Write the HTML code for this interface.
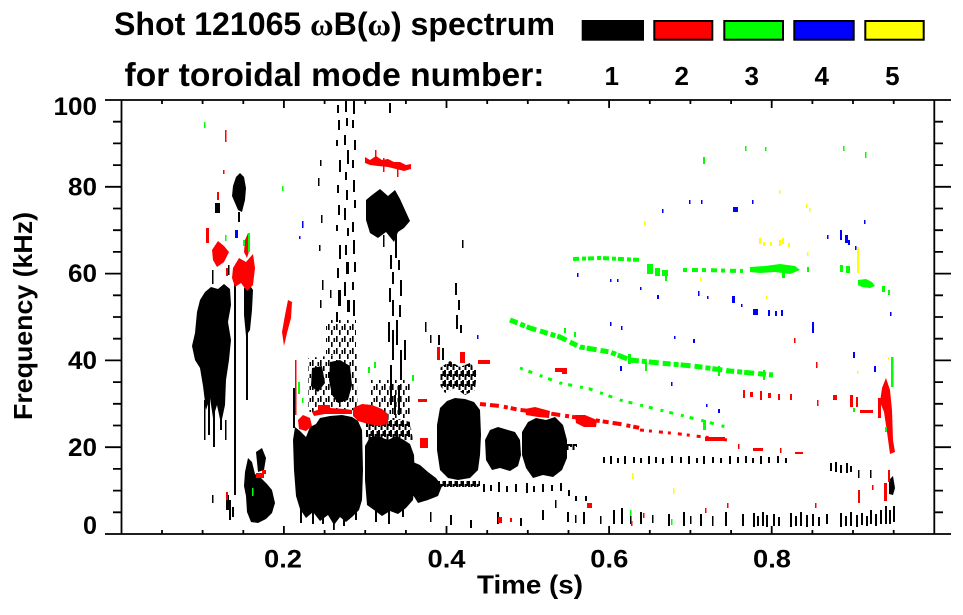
<!DOCTYPE html>
<html><head><meta charset="utf-8"><style>
html,body{margin:0;padding:0;background:#fff;}
svg{display:block;}
text{font-family:"Liberation Sans",Arial,sans-serif;font-weight:bold;fill:#000;}
</style></head><body>
<svg width="963" height="615" viewBox="0 0 963 615" xmlns="http://www.w3.org/2000/svg">
<defs>
<pattern id="st" width="8" height="12" patternUnits="userSpaceOnUse"><rect x="0" y="0" width="1.6" height="6"/><rect x="3" y="6" width="1.6" height="5"/><rect x="5.5" y="2" width="1.6" height="4"/></pattern>
<pattern id="st2" width="6" height="10" patternUnits="userSpaceOnUse"><rect x="0" y="0" width="2" height="7"/><rect x="2.5" y="4" width="2" height="6"/><rect x="4.5" y="1" width="1.5" height="5"/></pattern>
<clipPath id="pc"><rect x="122" y="101" width="812" height="432"/></clipPath>
</defs>

<!-- Title -->
<text x="114" y="35" font-size="32" textLength="441" lengthAdjust="spacingAndGlyphs">Shot 121065 <tspan font-family="Liberation Serif">ω</tspan>B(<tspan font-family="Liberation Serif">ω</tspan>) spectrum</text>
<text x="124.5" y="86" font-size="33" textLength="420" lengthAdjust="spacingAndGlyphs">for toroidal mode number:</text>

<!-- Legend -->
<rect x="581.7" y="20" width="62.3" height="20.7" fill="#000"/>
<rect x="654.3" y="21" width="58" height="18.7" fill="#ff0000" stroke="#000" stroke-width="2"/>
<rect x="724.3" y="21" width="58.7" height="18.7" fill="#00ff00" stroke="#000" stroke-width="2"/>
<rect x="794.3" y="21" width="59.4" height="18.7" fill="#0000ff" stroke="#000" stroke-width="2"/>
<rect x="865.3" y="21" width="58.4" height="18.7" fill="#ffff00" stroke="#000" stroke-width="2"/>
<g font-size="26" text-anchor="middle">
<text x="611.7" y="85">1</text><text x="681.7" y="85">2</text><text x="751.7" y="85">3</text><text x="821.7" y="85">4</text><text x="892.3" y="85">5</text>
</g>

<!-- DATA -->
<g clip-path="url(#pc)">
<!-- BLACK -->
<g fill="#000">
<polygon points="192,346 195,333 197,312 200,300 205,292 211,287 218,289 224,284 230,289 231,305 228,322 231,340 229,360 226,380 225,405 221,424 217,405 213,418 210,398 206,410 203,386 200,368 195,360"/>
<rect x="208" y="380" width="2" height="55"/><rect x="213" y="390" width="2" height="57"/><rect x="220" y="400" width="2" height="30"/><rect x="204" y="400" width="1.5" height="40"/><rect x="225" y="420" width="1.5" height="20"/>
<rect x="234" y="283" width="2" height="212"/>
<rect x="246" y="282" width="2" height="118"/>
<polygon points="244,288 249,284 253,290 252,310 250,330 246,336 244,315"/>
<polygon points="233,186 236,177 240,173 244,177 246,188 245,200 242,212 238,210 235,203 232,196"/>
<rect x="215" y="203" width="5" height="10"/><rect x="238" y="212" width="2" height="10"/>
<polygon points="245,472 248,458 252,462 255,474 261,478 267,484 272,490 275,503 272,513 266,519 258,523 251,522 247,512 246,496 244,486"/>
<polygon points="256,452 262,448 266,458 264,470 258,472"/>
<rect x="226" y="495" width="3" height="15"/><rect x="229" y="500" width="2" height="20"/><rect x="232" y="507" width="2" height="10"/><rect x="212" y="495" width="1.5" height="8"/>
<rect x="212" y="270" width="1.5" height="14"/><rect x="228" y="265" width="1.5" height="10"/>
<rect x="293" y="388" width="2" height="40"/>
<polygon points="293,440 295,427 300,431 306,437 310,427 316,424 320,418 330,416 342,415 352,417 358,421 362,430 363,470 362,500 359,510 352,517 346,522 340,517 334,525 328,515 320,521 313,512 306,518 300,509 296,496 294,470"/>
<rect x="300" y="505" width="2" height="18"/><rect x="312" y="508" width="2" height="16"/><rect x="322" y="510" width="2" height="14"/><rect x="333" y="510" width="1.8" height="20"/><rect x="343" y="512" width="2" height="14"/><rect x="355" y="506" width="2" height="14"/>
<polygon points="365,446 370,437 378,436 388,440 396,436 404,440 410,444 414,455 415,480 413,500 406,508 398,514 390,511 382,516 374,510 367,505 365,480"/>
<rect x="375" y="508" width="2" height="14"/><rect x="388" y="510" width="2" height="14"/><rect x="402" y="505" width="2" height="12"/>
<polygon fill="url(#st2)" points="366,420 380,418 395,418 410,422 413,440 366,440"/>
<polygon points="413,462 420,465 428,472 436,478 442,486 438,496 428,500 418,503 413,495"/>
<polygon points="437,425 440,408 447,401 455,398 465,399 474,402 480,410 481,435 480,455 478,470 470,478 458,480 448,478 440,470 437,450"/>
<polygon points="485,440 490,430 498,427 508,430 515,432 520,440 521,455 518,466 510,471 500,468 492,470 486,460"/>
<polygon points="522,432 528,422 536,418 546,420 555,417 563,425 567,440 567,458 562,470 553,477 543,475 533,478 526,468 522,455"/>
<rect x="567" y="444" width="10" height="6" fill="url(#st2)"/>
<polygon points="330,362 340,360 350,366 352,385 348,400 338,403 332,395 329,380"/>
<polygon fill="url(#st)" points="308,358 357,353 358,410 308,412"/>
<polygon fill="url(#st)" points="326,320 356,320 356,355 326,355"/>
<polygon points="312,368 322,366 325,383 318,392 311,386"/>
<polygon fill="url(#st2)" points="440,368 450,361 460,367 470,363 477,371 475,390 465,395 455,388 445,393 440,385"/>
<polygon fill="url(#st)" points="370,380 410,380 410,418 370,418"/>
<polygon points="366,200 372,195 380,189 388,196 395,190 400,199 405,210 410,221 404,228 398,232 394,242 386,232 378,238 370,233 366,220"/>
<rect x="395" y="230" width="2" height="28"/><rect x="383" y="235" width="1.5" height="12"/>
<rect x="337" y="105" width="2" height="8"/><rect x="338" y="120" width="2" height="10"/><rect x="336" y="140" width="2" height="6"/><rect x="339" y="160" width="2" height="12"/><rect x="337" y="185" width="2" height="8"/><rect x="338" y="205" width="2" height="10"/><rect x="336" y="225" width="2" height="6"/><rect x="339" y="245" width="2" height="14"/><rect x="337" y="268" width="2" height="10"/><rect x="338" y="290" width="3" height="16"/><rect x="336" y="312" width="2" height="10"/>
<rect x="345" y="100" width="2" height="12"/><rect x="346" y="118" width="2" height="8"/><rect x="344" y="135" width="2" height="10"/><rect x="347" y="150" width="2" height="14"/><rect x="345" y="172" width="2" height="8"/><rect x="346" y="190" width="2" height="10"/><rect x="344" y="208" width="2" height="12"/><rect x="347" y="228" width="2" height="8"/><rect x="345" y="245" width="2" height="10"/><rect x="346" y="262" width="3" height="12"/><rect x="344" y="282" width="2" height="14"/><rect x="347" y="300" width="3" height="12"/>
<rect x="353" y="100" width="2" height="14"/><rect x="352" y="120" width="2" height="8"/><rect x="354" y="140" width="2" height="10"/><rect x="352" y="160" width="2" height="8"/><rect x="353" y="180" width="2" height="12"/><rect x="354" y="200" width="2" height="8"/><rect x="352" y="222" width="2" height="10"/><rect x="353" y="240" width="2" height="14"/><rect x="354" y="262" width="2" height="10"/><rect x="352" y="282" width="2" height="8"/><rect x="353" y="300" width="2" height="16"/>
<rect x="320" y="160" width="1.5" height="6"/><rect x="318" y="178" width="1.5" height="8"/><rect x="321" y="215" width="1.5" height="8"/><rect x="319" y="245" width="1.5" height="6"/><rect x="322" y="280" width="1.5" height="10"/><rect x="320" y="300" width="1.5" height="8"/><rect x="330" y="290" width="1.5" height="8"/>
<rect x="389" y="103" width="2" height="10"/><rect x="390" y="255" width="2" height="14"/><rect x="392" y="272" width="2" height="12"/><rect x="389" y="288" width="2" height="14"/><rect x="398" y="260" width="2" height="10"/><rect x="400" y="280" width="2" height="16"/><rect x="392" y="300" width="2" height="16"/><rect x="399" y="305" width="2" height="12"/>
<rect x="388" y="322" width="2" height="20"/><rect x="392" y="330" width="2" height="30"/><rect x="396" y="320" width="2" height="25"/><rect x="400" y="350" width="2" height="30"/><rect x="404" y="340" width="2" height="20"/><rect x="390" y="365" width="2" height="40"/><rect x="398" y="385" width="2" height="30"/><rect x="394" y="395" width="2" height="20"/>
<rect x="455" y="283" width="2" height="12"/><rect x="458" y="300" width="2" height="10"/><rect x="456" y="315" width="2" height="14"/><rect x="460" y="325" width="2" height="8"/><rect x="438" y="335" width="2" height="10"/><rect x="442" y="348" width="2" height="12"/><rect x="462" y="240" width="1.5" height="8"/><rect x="425" y="322" width="1.5" height="10"/><rect x="430" y="335" width="1.5" height="8"/>
<rect x="603" y="457" width="2" height="6"/><rect x="610" y="456" width="2" height="8"/><rect x="617" y="458" width="2" height="5"/><rect x="624" y="456" width="2" height="8"/><rect x="633" y="457" width="2" height="6"/><rect x="640" y="458" width="2" height="5"/><rect x="648" y="456" width="2" height="8"/><rect x="655" y="457" width="2" height="6"/><rect x="662" y="458" width="2" height="6"/><rect x="671" y="456" width="2" height="7"/><rect x="680" y="457" width="2" height="6"/><rect x="688" y="456" width="2" height="8"/><rect x="696" y="458" width="2" height="5"/><rect x="703" y="456" width="2" height="8"/><rect x="712" y="457" width="2" height="6"/><rect x="720" y="458" width="2" height="5"/><rect x="729" y="456" width="2" height="8"/><rect x="737" y="457" width="2" height="6"/><rect x="745" y="456" width="2" height="7"/><rect x="752" y="458" width="2" height="5"/><rect x="760" y="456" width="2" height="8"/><rect x="768" y="457" width="2" height="6"/><rect x="777" y="456" width="2" height="7"/><rect x="785" y="458" width="2" height="5"/>
<rect x="830" y="463" width="2" height="8"/><rect x="835" y="462" width="2" height="10"/><rect x="840" y="465" width="2" height="8"/><rect x="846" y="463" width="2" height="10"/><rect x="850" y="466" width="2" height="6"/><rect x="858" y="470" width="1.5" height="8"/><rect x="870" y="470" width="1.5" height="8"/>
<polygon points="889,480 893,476 895,488 893,495 889,494"/>
<rect x="483" y="484" width="2" height="8"/><rect x="490" y="485" width="2" height="6"/><rect x="498" y="482" width="2" height="10"/><rect x="506" y="486" width="2" height="6"/><rect x="515" y="484" width="2" height="8"/><rect x="526" y="483" width="2" height="10"/><rect x="533" y="486" width="2" height="6"/><rect x="542" y="484" width="2" height="8"/><rect x="551" y="485" width="2" height="6"/><rect x="560" y="483" width="2" height="8"/><rect x="568" y="490" width="2" height="6"/><rect x="575" y="496" width="2" height="5"/><rect x="585" y="496" width="2" height="5"/>
<rect x="415" y="481" width="65" height="6" fill="url(#st2)"/>
<rect x="567" y="512" width="2" height="10"/><rect x="575" y="515" width="1.5" height="8"/><rect x="583" y="512" width="2" height="12"/><rect x="600" y="516" width="1.5" height="8"/><rect x="613" y="510" width="2" height="14"/><rect x="621" y="508" width="2" height="16"/><rect x="630" y="514" width="1.5" height="10"/><rect x="640" y="512" width="2" height="12"/><rect x="652" y="515" width="1.5" height="8"/><rect x="668" y="514" width="2" height="12"/><rect x="683" y="512" width="2" height="14"/><rect x="690" y="516" width="1.5" height="8"/><rect x="700" y="514" width="2" height="12"/><rect x="712" y="516" width="1.5" height="10"/><rect x="725" y="512" width="2" height="14"/><rect x="742" y="514" width="2" height="12"/><rect x="753" y="513" width="2" height="14"/><rect x="757" y="516" width="2" height="10"/><rect x="762" y="512" width="2" height="14"/><rect x="766" y="515" width="2" height="12"/><rect x="773" y="514" width="2" height="12"/><rect x="778" y="517" width="2" height="9"/><rect x="790" y="513" width="2" height="14"/><rect x="795" y="516" width="2" height="10"/><rect x="800" y="512" width="2" height="14"/><rect x="806" y="515" width="2" height="12"/><rect x="812" y="514" width="2" height="12"/><rect x="818" y="517" width="2" height="9"/><rect x="826" y="514" width="2" height="10"/><rect x="840" y="513" width="2" height="14"/><rect x="845" y="516" width="2" height="10"/><rect x="850" y="512" width="2" height="14"/><rect x="856" y="515" width="2" height="12"/><rect x="861" y="513" width="2" height="12"/><rect x="866" y="516" width="2" height="10"/><rect x="870" y="510" width="2" height="14"/><rect x="875" y="514" width="2" height="12"/><rect x="880" y="510" width="2" height="14"/><rect x="885" y="506" width="2" height="18"/><rect x="889" y="510" width="2" height="14"/><rect x="893" y="506" width="2" height="16"/>
<rect x="450" y="515" width="2" height="10"/><rect x="470" y="520" width="2" height="8"/><rect x="497" y="512" width="2" height="12"/><rect x="520" y="518" width="2" height="8"/><rect x="542" y="510" width="2" height="10"/><rect x="430" y="512" width="1.5" height="10"/><rect x="555" y="500" width="1.5" height="8"/>
</g>

<!-- RED -->
<g fill="#ff0000">
<polygon points="233,268 239,258 246,262 253,254 255,268 253,285 247,291 241,283 235,287 232,278"/>
<polygon points="212,250 218,241 224,246 229,252 224,262 217,267 213,260"/>
<polygon points="245,240 248,233 250,248 247,258 244,252"/>
<rect x="206" y="228" width="3" height="15"/><rect x="226" y="268" width="2" height="8"/><rect x="217" y="192" width="2" height="8"/><rect x="225" y="130" width="1.5" height="12"/><rect x="223" y="170" width="1.5" height="4"/>
<rect x="256" y="473" width="8" height="5"/><rect x="262" y="470" width="4" height="4"/><rect x="226" y="492" width="2" height="8"/>
<polygon points="288,300 292,302 291,318 287,333 284,346 282,332 285,315"/>
<rect x="295" y="360" width="1.5" height="55"/>
<polygon points="298,420 303,415 310,418 312,426 306,431 299,429"/>
<polygon points="312,412 320,409 330,408 345,409 352,410 352,414 340,414 325,414 314,416"/>
<polygon points="353,408 362,404 372,405 382,409 388,414 388,424 378,426 368,424 358,421 353,416"/>
<rect x="318" y="405" width="12" height="5"/>
<polygon points="365,157 370,160 376,156 382,160 388,159 394,162 400,162 406,165 411,164 411,169 404,171 396,169 388,167 378,166 370,165 365,163"/>
<rect x="375" y="150" width="1.5" height="8"/><rect x="383" y="158" width="1.5" height="14"/><rect x="397" y="165" width="1.5" height="12"/>
<polyline points="480,404 500,406 520,410 540,412 560,415 580,418 600,421 620,424 640,428" fill="none" stroke="#ff0000" stroke-width="4" stroke-dasharray="6 4 9 5 4 3"/>
<polyline points="640,430 680,434 727,440" fill="none" stroke="#ff0000" stroke-width="3" stroke-dasharray="4 5 3 7"/>
<polygon points="525,409 535,407 550,411 549,418 538,417 526,415"/>
<polygon points="575,415 585,415 597,420 596,427 584,427 576,423"/>
<polygon points="882,388 886,378 890,390 892,410 893,440 895,452 890,454 887,432 884,412 880,402"/>
<rect x="878" y="398" width="3" height="20"/><rect x="888" y="470" width="2" height="12"/><rect x="884" y="483" width="3" height="18"/>
<rect x="743" y="390" width="2" height="8"/><rect x="750" y="392" width="3" height="5"/><rect x="760" y="391" width="2" height="9"/><rect x="768" y="393" width="3" height="5"/><rect x="778" y="394" width="2" height="6"/><rect x="790" y="394" width="2" height="6"/>
<rect x="562" y="370" width="5" height="4"/><rect x="794" y="338" width="1.5" height="5"/><rect x="816" y="362" width="1.5" height="6"/><rect x="833" y="395" width="4" height="5"/><rect x="850" y="395" width="3" height="12"/><rect x="856" y="397" width="2" height="10"/><rect x="860" y="410" width="13" height="3"/><rect x="817" y="400" width="1.5" height="6"/>
<rect x="705" y="437" width="20" height="4"/><rect x="738" y="444" width="1.5" height="5"/><rect x="753" y="448" width="10" height="3"/><rect x="780" y="448" width="1.5" height="5"/><rect x="795" y="452" width="8" height="2"/>
<rect x="858" y="490" width="2" height="13"/><rect x="872" y="485" width="1.5" height="5"/><rect x="587" y="503" width="5" height="5"/><rect x="727" y="503" width="1.5" height="5"/><rect x="815" y="503" width="1.5" height="5"/><rect x="705" y="508" width="1.5" height="5"/><rect x="643" y="513" width="1.5" height="5"/><rect x="631" y="521" width="1.5" height="5"/>
<rect x="437" y="347" width="3" height="13"/><rect x="460" y="352" width="5" height="11"/><rect x="478" y="360" width="12" height="4"/><rect x="418" y="399" width="9" height="3"/><rect x="420" y="438" width="8" height="10"/><rect x="498" y="517" width="4" height="6"/><rect x="510" y="518" width="2" height="4"/><rect x="555" y="368" width="12" height="4"/>
</g>

<!-- GREEN -->
<g fill="#00ff00">
<polyline points="573,259 600,258 642,260" fill="none" stroke="#00ff00" stroke-width="4" stroke-dasharray="6 3 4 2"/>
<rect x="647" y="264" width="6" height="10"/><rect x="655" y="268" width="5" height="8"/><rect x="662" y="270" width="6" height="6"/><rect x="665" y="272" width="2" height="9"/>
<polyline points="683,270 700,270 743,271" fill="none" stroke="#00ff00" stroke-width="4" stroke-dasharray="4 5 6 4"/>
<polygon points="750,267 765,266 780,264 795,266 800,270 790,274 775,272 760,273 750,272"/>
<rect x="782" y="266" width="3" height="12"/><rect x="807" y="267" width="2" height="5"/>
<rect x="840" y="265" width="3" height="7"/><rect x="846" y="266" width="4" height="7"/>
<polygon points="858,280 866,279 872,282 875,286 870,288 862,287 858,285"/><rect x="882" y="286" width="3" height="6"/><rect x="888" y="290" width="2" height="5"/>
<polyline points="510,320 530,328 560,337 580,347 610,352 630,360 660,363 693,366 730,371 773,375" fill="none" stroke="#00ff00" stroke-width="5" stroke-dasharray="8 3 5 2 10 4"/>
<rect x="628" y="354" width="3" height="10"/><rect x="645" y="362" width="2" height="9"/><rect x="718" y="366" width="2" height="10"/><rect x="763" y="370" width="2" height="10"/>
<polyline points="520,368 560,383 590,389 620,400 660,410 700,420 730,428" fill="none" stroke="#00ff00" stroke-width="3" stroke-dasharray="3 6 4 8"/>
<rect x="703" y="420" width="3" height="10"/>
<rect x="891" y="357" width="2.5" height="30"/><rect x="885" y="427" width="2" height="5"/>
<rect x="248" y="233" width="2" height="19"/><rect x="243" y="240" width="2" height="6"/><rect x="225" y="235" width="1.5" height="6"/><rect x="252" y="488" width="1.5" height="8"/>
<rect x="204" y="122" width="1.5" height="6"/><rect x="282" y="186" width="1.5" height="5"/><rect x="703" y="157" width="2" height="7"/><rect x="745" y="146" width="1.5" height="5"/><rect x="843" y="146" width="1.5" height="5"/><rect x="865" y="152" width="1.5" height="6"/><rect x="765" y="147" width="1.5" height="4"/>
<rect x="564" y="328" width="2" height="5"/><rect x="574" y="332" width="2" height="5"/><rect x="298" y="382" width="2" height="12"/><rect x="302" y="398" width="1.5" height="5"/><rect x="368" y="367" width="2" height="6"/><rect x="374" y="362" width="2" height="6"/><rect x="412" y="375" width="2" height="6"/><rect x="630" y="510" width="1.5" height="6"/><rect x="671" y="519" width="1.5" height="6"/><rect x="853" y="408" width="2" height="4"/>
</g>

<!-- BLUE -->
<g fill="#0000ff">
<rect x="689" y="200" width="1.5" height="4"/><rect x="701" y="200" width="1.5" height="4"/><rect x="662" y="209" width="1.5" height="4"/><rect x="733" y="207" width="5" height="5"/><rect x="752" y="200" width="1.5" height="4"/><rect x="827" y="235" width="1.5" height="4"/><rect x="840" y="230" width="2" height="10"/><rect x="845" y="235" width="3" height="8"/><rect x="848" y="240" width="2" height="5"/><rect x="855" y="246" width="1.5" height="4"/><rect x="864" y="220" width="1.5" height="4"/>
<rect x="577" y="273" width="1.5" height="4"/><rect x="610" y="279" width="1.5" height="3"/><rect x="617" y="279" width="1.5" height="3"/><rect x="640" y="287" width="1.5" height="3"/><rect x="657" y="295" width="2" height="4"/><rect x="698" y="291" width="1.5" height="5"/><rect x="707" y="296" width="1.5" height="3"/><rect x="732" y="296" width="3" height="7"/><rect x="741" y="304" width="1.5" height="3"/><rect x="753" y="309" width="5" height="6"/><rect x="768" y="310" width="2" height="6"/><rect x="775" y="311" width="2" height="5"/><rect x="781" y="310" width="2" height="6"/><rect x="812" y="322" width="2" height="11"/><rect x="890" y="312" width="1.5" height="4"/><rect x="610" y="322" width="1.5" height="4"/><rect x="621" y="326" width="1.5" height="4"/><rect x="674" y="336" width="1.5" height="3"/><rect x="693" y="339" width="2" height="4"/><rect x="620" y="366" width="2" height="5"/><rect x="671" y="382" width="1.5" height="4"/><rect x="706" y="404" width="1.5" height="3"/><rect x="718" y="409" width="2" height="4"/><rect x="853" y="352" width="2" height="6"/><rect x="874" y="366" width="2" height="6"/><rect x="235" y="230" width="3" height="8"/><rect x="302" y="221" width="1.5" height="7"/><rect x="299" y="236" width="1.5" height="3"/><rect x="477" y="335" width="1.5" height="4"/>
</g>

<!-- YELLOW -->
<g fill="#ffff00">
<rect x="644" y="221" width="1.5" height="4"/><rect x="779" y="190" width="1.5" height="4"/><rect x="806" y="204" width="1.5" height="4"/><rect x="809" y="208" width="1.5" height="4"/><rect x="759" y="238" width="2" height="6"/><rect x="763" y="242" width="2" height="4"/><rect x="770" y="242" width="2" height="4"/><rect x="779" y="240" width="2" height="6"/><rect x="782" y="238" width="2" height="6"/><rect x="788" y="243" width="2" height="4"/><rect x="807" y="252" width="1.5" height="4"/><rect x="857" y="247" width="2" height="26"/><rect x="700" y="277" width="1.5" height="4"/><rect x="766" y="296" width="1.5" height="3"/><rect x="632" y="473" width="1.5" height="6"/><rect x="673" y="488" width="1.5" height="6"/><rect x="888" y="357" width="1.5" height="3"/><rect x="857" y="371" width="1.5" height="3"/>
</g>
</g>

<!-- AXES -->
<g stroke="#000" stroke-width="1.8" fill="none">
<line x1="105" y1="100" x2="951" y2="100"/>
<line x1="105" y1="534" x2="951" y2="534"/>
<line x1="121.5" y1="100" x2="121.5" y2="534"/>
<line x1="934.3" y1="100" x2="934.3" y2="534"/>
<path d="M105 186.8H121.5M105 273.6H121.5M105 360.4H121.5M105 447.2H121.5M934.3 186.8H951M934.3 273.6H951M934.3 360.4H951M934.3 447.2H951"/>
<path d="M113 512.3H121.5M113 490.6H121.5M113 468.9H121.5M113 425.5H121.5M113 403.8H121.5M113 382.1H121.5M113 338.7H121.5M113 317H121.5M113 295.3H121.5M113 251.9H121.5M113 230.2H121.5M113 208.5H121.5M113 165.1H121.5M113 143.4H121.5M113 121.7H121.5
M934.3 512.3H943M934.3 490.6H943M934.3 468.9H943M934.3 425.5H943M934.3 403.8H943M934.3 382.1H943M934.3 338.7H943M934.3 317H943M934.3 295.3H943M934.3 251.9H943M934.3 230.2H943M934.3 208.5H943M934.3 165.1H943M934.3 143.4H943M934.3 121.7H943"/>
<path d="M283.9 100V108M446.5 100V108M609.1 100V108M771.7 100V108M283.9 534V526M446.5 534V526M609.1 534V526M771.7 534V526"/>
<path d="M162 100V104M202.6 100V104M243.3 100V104M324.6 100V104M365.2 100V104M405.9 100V104M487.2 100V104M527.8 100V104M568.5 100V104M649.8 100V104M690.4 100V104M731.1 100V104M812.4 100V104M853 100V104M893.7 100V104
M162 534V530M202.6 534V530M243.3 534V530M324.6 534V530M365.2 534V530M405.9 534V530M487.2 534V530M527.8 534V530M568.5 534V530M649.8 534V530M690.4 534V530M731.1 534V530M812.4 534V530M853 534V530M893.7 534V530"/>
</g>

<g font-size="25" text-anchor="end">
<text x="97" y="115" textLength="43.5" lengthAdjust="spacingAndGlyphs">100</text>
<text x="97" y="195.3" textLength="29" lengthAdjust="spacingAndGlyphs">80</text>
<text x="97" y="282.1" textLength="29" lengthAdjust="spacingAndGlyphs">60</text>
<text x="97" y="368.9" textLength="29" lengthAdjust="spacingAndGlyphs">40</text>
<text x="97" y="455.9" textLength="29" lengthAdjust="spacingAndGlyphs">20</text>
<text x="97" y="534" textLength="14" lengthAdjust="spacingAndGlyphs">0</text>
</g>
<g font-size="25" text-anchor="middle">
<text x="283" y="567.7" textLength="38" lengthAdjust="spacingAndGlyphs">0.2</text>
<text x="446.5" y="567.7" textLength="38" lengthAdjust="spacingAndGlyphs">0.4</text>
<text x="609.3" y="567.7" textLength="38" lengthAdjust="spacingAndGlyphs">0.6</text>
<text x="772" y="567.7" textLength="38" lengthAdjust="spacingAndGlyphs">0.8</text>
</g>
<text x="530" y="593.3" font-size="26" text-anchor="middle" textLength="106" lengthAdjust="spacingAndGlyphs">Time (s)</text>
<text transform="translate(32,316) rotate(-90)" font-size="26" text-anchor="middle" textLength="208" lengthAdjust="spacingAndGlyphs">Frequency (kHz)</text>
</svg>
</body></html>
